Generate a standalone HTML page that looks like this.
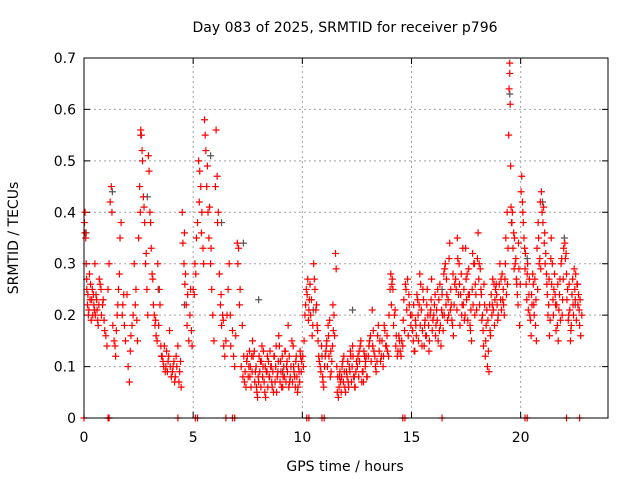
<!DOCTYPE html>
<html><head><meta charset="utf-8"><style>
html,body{margin:0;padding:0;background:#fff}
svg{display:block;font-family:"DejaVu Sans","Liberation Sans",sans-serif}
</style></head><body>
<svg id="chart" width="640" height="480" viewBox="0 0 640 480">
<text x="345" y="32" font-size="14" text-anchor="middle">Day 083 of 2025, SRMTID for receiver p796</text>
<text x="345" y="471" font-size="14" text-anchor="middle">GPS time / hours</text>
<text transform="translate(18,238) rotate(-90)" font-size="14" text-anchor="middle">SRMTID / TECUs</text>
<g id="grid"></g>
<g id="ticks"></g>
<g id="black"></g>
<g id="red"></g>
<rect x="84" y="58" width="524" height="360" fill="none" stroke="#000" stroke-width="1"/>
</svg>
<script>
const xTicks=[0,5,10,15,20];
const yTicks=[0,0.1,0.2,0.3,0.4,0.5,0.6,0.7];
const yTickLabels=["0","0.1","0.2","0.3","0.4","0.5","0.6","0.7"];
const redT=[0.02,0.05,0.08,0.1,0.13,0.16,0.2,0.25,0.3,0.35,0.4,0.45,0.5,0.55,0.6,0.65,0.7,0.78,0.85,0.92,
1.0,1.05,1.1,1.15,1.2,1.25,1.28,1.32,1.38,1.45,1.52,1.58,1.65,1.7,1.78,1.85,1.9,1.97,
2.02,2.08,2.12,2.2,2.25,2.3,2.38,2.45,2.5,2.55,2.6,2.63,2.68,2.72,2.78,2.82,2.88,2.92,2.95,2.98,
3.02,3.08,3.12,3.18,3.25,3.3,3.38,3.45,3.52,3.58,3.65,3.72,3.78,3.85,3.92,
4.0,4.08,4.15,4.22,4.3,4.38,4.45,4.5,4.53,4.58,4.62,4.68,4.72,4.8,4.88,4.95,
5.0,5.08,5.15,5.2,5.25,5.3,5.35,5.4,5.45,5.52,5.55,5.58,5.62,5.68,5.72,5.8,5.85,5.9,5.95,
6.05,6.1,6.15,6.2,6.25,6.3,6.35,6.4,6.45,6.5,6.6,6.65,6.7,6.8,6.85,6.9,6.95,
7.02,7.08,7.12,7.2,7.28,7.35,7.42,7.48,
7.55,7.6,7.68,7.72,7.8,7.85,7.9,7.95,8.0,8.08,8.15,8.2,8.28,8.35,8.4,8.48,
8.55,8.6,8.68,8.72,8.8,8.88,8.92,9.0,9.05,9.12,9.2,9.28,9.35,9.42,
9.52,9.6,9.65,9.72,9.8,9.85,9.9,9.97,
10.05,10.12,10.18,10.25,10.3,10.35,10.42,10.48,
10.52,10.58,10.65,10.7,10.75,10.82,10.88,10.93,10.98,
11.02,11.08,11.12,11.18,11.22,11.28,11.35,11.4,11.45,11.48,
11.52,11.55,11.6,11.65,11.7,11.75,11.82,11.9,11.95,
12.02,12.1,12.15,12.22,12.3,12.35,12.42,12.48,
12.52,12.6,12.68,12.75,12.8,12.85,12.9,12.97,
13.05,13.12,13.2,13.28,13.35,13.42,13.48,
13.55,13.62,13.7,13.78,13.85,13.9,13.97,
14.05,14.1,14.15,14.22,14.3,14.38,14.45,
14.52,14.6,14.68,14.75,14.82,14.9,14.97,
15.02,15.08,15.15,15.2,15.28,15.35,15.42,15.48,
15.52,15.6,15.68,15.75,15.82,15.88,15.92,15.98,
16.05,16.12,16.2,16.28,16.35,16.42,16.48,
16.55,16.62,16.7,16.75,16.82,16.88,16.92,16.98,
17.05,17.1,17.18,17.25,17.3,17.38,17.42,17.48,
17.55,17.6,17.68,17.75,17.8,17.85,17.92,17.98,
18.05,18.1,18.18,18.25,18.3,18.38,18.42,18.48,
18.55,18.62,18.7,18.78,18.85,18.9,18.97,
19.05,19.1,19.18,19.25,19.32,19.38,19.45,19.47,19.5,
19.5,19.52,19.54,19.56,19.6,19.68,19.75,19.82,19.88,19.95,
20.02,20.05,20.1,20.15,20.22,20.3,20.38,20.42,20.48,
20.55,20.6,20.68,20.72,20.78,20.85,20.9,20.95,20.98,
21.02,21.08,21.12,21.2,21.25,21.32,21.4,21.45,
21.52,21.6,21.68,21.72,21.8,21.85,21.9,21.97,
22.02,22.08,22.15,22.2,22.28,22.32,22.4,22.45,
22.52,22.58,22.62,22.7,22.75,22.8];
const redV=[0.38,0.40,0.35,0.30,0.25,0.22,0.20,0.28,0.26,0.23,0.20,0.22,0.30,0.24,0.21,0.18,0.27,0.25,0.22,0.19,
0.16,0.14,0.25,0.30,0.42,0.45,0.40,0.18,0.15,0.12,0.20,0.25,0.35,0.38,0.22,0.18,0.15,0.24,
0.10,0.07,0.13,0.18,0.20,0.30,0.25,0.15,0.35,0.45,0.56,0.55,0.50,0.43,0.38,0.30,0.25,0.20,0.51,0.48,
0.40,0.33,0.28,0.22,0.18,0.16,0.30,0.25,0.14,0.12,0.10,0.09,0.13,0.11,0.17,
0.08,0.10,0.07,0.12,0.14,0.09,0.06,0.40,0.34,0.30,0.26,0.22,0.18,0.15,0.25,0.14,
0.25,0.30,0.35,0.38,0.50,0.48,0.45,0.40,0.33,0.58,0.55,0.52,0.45,0.40,0.35,0.30,0.25,0.20,0.15,
0.56,0.47,0.40,0.28,0.22,0.18,0.20,0.14,0.12,0.15,0.25,0.30,0.20,0.17,0.12,0.10,0.16,
0.34,0.33,0.22,0.10,0.08,0.07,0.06,0.12,
0.10,0.08,0.12,0.15,0.13,0.09,0.06,0.04,0.07,0.11,0.14,0.10,0.05,0.09,0.12,0.08,
0.10,0.07,0.05,0.12,0.14,0.09,0.16,0.11,0.06,0.08,0.13,0.10,0.18,0.07,
0.15,0.10,0.08,0.12,0.06,0.09,0.13,0.11,
0.10,0.20,0.25,0.27,0.21,0.26,0.23,0.18,
0.30,0.25,0.22,0.17,0.12,0.10,0.14,0.08,0.06,
0.10,0.13,0.15,0.18,0.12,0.08,0.11,0.22,0.20,0.16,
0.32,0.29,0.05,0.04,0.08,0.07,0.10,0.12,0.06,
0.09,0.07,0.10,0.12,0.14,0.08,0.06,0.11,
0.10,0.13,0.15,0.09,0.07,0.12,0.11,0.08,
0.14,0.16,0.21,0.13,0.10,0.11,0.18,
0.15,0.12,0.10,0.17,0.14,0.13,0.20,
0.28,0.26,0.25,0.20,0.16,0.13,0.15,
0.12,0.14,0.17,0.25,0.27,0.22,0.18,
0.20,0.15,0.13,0.18,0.23,0.22,0.26,0.14,
0.25,0.18,0.16,0.20,0.15,0.21,0.27,0.19,
0.22,0.18,0.25,0.17,0.14,0.20,0.28,
0.30,0.24,0.20,0.34,0.22,0.18,0.16,0.26,
0.25,0.35,0.30,0.24,0.20,0.22,0.19,0.33,
0.28,0.24,0.18,0.15,0.32,0.30,0.26,0.21,
0.36,0.30,0.25,0.20,0.14,0.12,0.18,0.10,
0.09,0.16,0.22,0.26,0.25,0.24,0.20,
0.30,0.27,0.23,0.20,0.35,0.40,0.55,0.64,0.67,
0.69,0.61,0.49,0.41,0.38,0.36,0.30,0.26,0.22,0.18,
0.44,0.47,0.40,0.35,0.32,0.28,0.24,0.20,0.16,
0.28,0.22,0.18,0.15,0.25,0.30,0.42,0.44,0.40,
0.38,0.34,0.30,0.26,0.20,0.16,0.35,0.30,
0.25,0.22,0.18,0.15,0.27,0.30,0.20,0.33,
0.34,0.32,0.25,0.20,0.15,0.18,0.22,0.29,
0.28,0.26,0.22,0.18,0.16,0.20];
const extraT=[0.04,0.12,0.18,0.22,0.28,0.33,0.38,0.43,0.48,0.52,0.58,0.63,0.68,0.74,0.8,0.88,0.95,
1.42,1.48,1.55,1.62,1.75,1.82,2.15,2.35,2.42,2.58,2.66,2.75,2.85,3.05,3.15,3.22,3.28,3.35,3.42,3.48,3.55,3.62,3.68,3.75,3.82,3.88,3.95,4.05,4.12,4.18,4.25,4.35,4.42,
4.6,4.65,4.75,4.85,4.92,5.05,5.12,5.28,5.38,5.48,5.65,5.75,5.82,6.02,6.12,6.28,6.38,6.55,6.72,
7.05,7.15,7.25,7.32,7.38,7.45,7.52,7.58,7.62,7.65,7.7,7.75,7.82,7.88,7.92,7.98,8.02,8.05,8.1,8.12,8.18,8.22,8.25,8.3,8.32,8.38,8.42,8.45,8.5,8.52,8.58,8.62,8.65,8.7,8.75,8.78,8.82,8.85,8.9,8.95,8.98,9.02,9.08,9.1,9.15,9.18,9.22,9.25,9.3,9.32,9.38,9.4,9.45,9.48,9.55,9.58,9.62,9.68,9.7,9.75,9.78,9.82,9.88,9.92,9.95,
10.02,10.08,10.15,10.22,10.28,10.32,10.38,10.45,10.55,10.62,10.68,10.72,10.78,10.85,10.9,10.95,
11.05,11.1,11.15,11.2,11.25,11.3,11.32,11.38,11.42,11.58,11.62,11.68,11.72,11.78,11.8,11.85,11.88,11.92,11.98,12.05,12.08,12.12,12.18,12.2,12.25,12.28,12.32,12.38,12.4,12.45,12.55,12.58,12.62,12.65,12.72,12.78,12.82,12.88,12.92,12.95,13.02,13.08,13.15,13.22,13.25,13.32,13.38,13.45,13.52,13.58,13.65,13.72,13.75,13.82,13.88,13.95,
14.02,14.08,14.12,14.18,14.25,14.28,14.35,14.42,14.48,14.55,14.62,14.65,14.72,14.78,14.85,14.88,14.95,
15.05,15.1,15.12,15.18,15.22,15.25,15.3,15.32,15.38,15.4,15.45,15.5,15.55,15.58,15.62,15.65,15.7,15.72,15.78,15.8,15.85,15.9,15.95,
16.02,16.08,16.1,16.15,16.18,16.22,16.25,16.3,16.32,16.38,16.4,16.45,16.5,16.52,16.58,16.6,16.65,16.68,16.72,16.78,16.8,16.85,16.9,16.95,
17.02,17.08,17.12,17.15,17.2,17.22,17.28,17.32,17.35,17.4,17.45,17.5,17.52,17.58,17.62,17.65,17.7,17.72,17.78,17.82,17.88,17.9,17.95,
18.02,18.08,18.12,18.15,18.2,18.22,18.28,18.32,18.35,18.4,18.45,18.5,18.52,18.58,18.6,18.65,18.68,18.72,18.75,18.8,18.82,18.88,18.92,18.95,
19.02,19.08,19.12,19.15,19.2,19.22,19.28,19.3,19.35,19.4,19.42,19.58,19.62,19.65,19.7,19.72,19.78,19.8,19.85,19.9,19.92,19.98,
20.08,20.12,20.18,20.2,20.25,20.28,20.32,20.35,20.4,20.45,20.5,20.52,20.58,20.62,20.65,20.7,20.75,20.8,20.82,20.88,20.92,
21.05,21.1,21.15,21.18,21.22,21.28,21.3,21.35,21.38,21.42,21.48,21.5,21.55,21.58,21.62,21.65,21.7,21.75,21.78,21.82,21.88,21.92,21.95,
22.05,22.1,22.12,22.18,22.22,22.25,22.3,22.35,22.38,22.42,22.48,22.5,22.55,22.6,22.65,22.68,22.72];
const extraV=[0.36,0.27,0.24,0.21,0.23,0.19,0.25,0.24,0.21,0.20,0.23,0.19,0.22,0.26,0.20,0.23,0.17,
0.14,0.17,0.22,0.28,0.20,0.24,0.16,0.22,0.19,0.40,0.52,0.41,0.32,0.38,0.27,0.20,0.19,0.15,0.18,0.22,0.12,0.11,0.14,0.10,0.09,0.12,0.10,0.09,0.11,0.08,0.10,0.07,0.11,
0.36,0.28,0.24,0.20,0.17,0.24,0.28,0.42,0.36,0.30,0.49,0.41,0.33,0.45,0.38,0.24,0.19,0.20,0.14,
0.30,0.25,0.18,0.12,0.09,0.11,0.08,0.13,0.10,0.06,0.09,0.12,0.07,0.10,0.05,0.08,0.12,0.09,0.06,0.11,0.08,0.13,0.07,0.10,0.04,0.09,0.06,0.11,0.08,0.13,0.10,0.06,0.09,0.12,0.07,0.10,0.05,0.08,0.11,0.14,0.07,0.09,0.12,0.06,0.10,0.08,0.13,0.07,0.11,0.09,0.06,0.12,0.08,0.10,0.07,0.14,0.09,0.06,0.11,0.08,0.05,0.10,0.07,0.12,0.09,
0.12,0.15,0.22,0.24,0.19,0.23,0.20,0.16,0.27,0.21,0.18,0.15,0.11,0.09,0.12,0.07,
0.12,0.14,0.10,0.16,0.19,0.13,0.09,0.14,0.17,0.10,0.08,0.06,0.09,0.05,0.08,0.11,0.07,0.09,0.05,0.08,0.11,0.06,0.09,0.13,0.07,0.10,0.12,0.08,0.06,0.09,0.12,0.08,0.11,0.14,0.07,0.09,0.13,0.10,0.12,0.08,0.12,0.15,0.11,0.14,0.17,0.12,0.09,0.16,0.13,0.11,0.15,0.12,0.18,0.14,0.16,0.12,
0.25,0.22,0.27,0.18,0.21,0.14,0.12,0.16,0.13,0.15,0.19,0.23,0.26,0.21,0.16,0.24,0.20,
0.17,0.22,0.13,0.19,0.16,0.24,0.20,0.15,0.28,0.18,0.21,0.17,0.23,0.14,0.19,0.16,0.22,0.25,0.18,0.13,0.20,0.23,0.17,
0.20,0.24,0.16,0.21,0.19,0.15,0.23,0.26,0.18,0.21,0.24,0.17,0.20,0.29,0.22,0.27,0.19,0.23,0.31,0.21,0.25,0.19,0.28,0.22,
0.27,0.21,0.31,0.24,0.26,0.18,0.28,0.22,0.33,0.25,0.20,0.27,0.23,0.19,0.29,0.24,0.17,0.21,0.25,0.22,0.30,0.20,0.24,
0.31,0.27,0.22,0.29,0.24,0.19,0.17,0.26,0.22,0.15,0.21,0.19,0.13,0.22,0.17,0.24,0.20,0.27,0.21,0.18,0.23,0.26,0.22,0.19,
0.26,0.23,0.21,0.28,0.25,0.22,0.27,0.30,0.24,0.26,0.33,0.38,0.40,0.33,0.29,0.35,0.31,0.27,0.24,0.34,0.29,0.26,
0.42,0.38,0.33,0.29,0.26,0.23,0.30,0.21,0.27,0.19,0.24,0.22,0.26,0.20,0.27,0.23,0.33,0.38,0.35,0.31,0.29,
0.41,0.36,0.32,0.28,0.24,0.22,0.27,0.19,0.31,0.26,0.23,0.20,0.28,0.24,0.17,0.22,0.26,0.21,0.24,0.19,0.31,0.23,0.27,
0.31,0.28,0.23,0.19,0.26,0.21,0.17,0.24,0.27,0.20,0.25,0.23,0.19,0.26,0.24,0.21,0.23];
const zeroT=[0,1.1,1.15,4.3,5.1,5.2,6.5,6.8,6.9,10.2,10.3,10.9,11.0,14.6,14.7,16.4,20.2,20.3,22.1,22.7];
const blackT=[0.1,1.3,2.6,2.9,3.4,4.6,5.8,6.3,7.3,8.0,9.1,10.5,12.3,16.4,19.5,20.3,21.0,22.0,22.5];
const blackV=[0.36,0.44,0.55,0.43,0.25,0.22,0.51,0.38,0.34,0.23,0.09,0.21,0.21,0.25,0.63,0.31,0.42,0.35,0.22];

const X0=84,X1=608,Y0=418,Y1=58,XMAX=24,YMAX=0.7;
const xs=t=>X0+(X1-X0)*t/XMAX;
const ys=v=>Y0-(Y0-Y1)*v/YMAX;
const NS="http://www.w3.org/2000/svg";
function mk(tag,attrs,parent){const e=document.createElementNS(NS,tag);for(const k in attrs)e.setAttribute(k,attrs[k]);parent.appendChild(e);return e;}
const grid=document.getElementById('grid'),ticks=document.getElementById('ticks');
xTicks.forEach(t=>{
  const x=xs(t);
  if(t>0){const g=mk('line',{x1:x,x2:x,y1:Y0,y2:Y1,stroke:'#a0a0a0','stroke-dasharray':'2,3'},grid);
  
  }
  const tk=mk('path',{d:`M${x},${Y0}v-6M${x},${Y1}v6`,stroke:'#000'},ticks);
  
  
  const lb=mk('text',{x:x,y:Y0+24,'font-size':14,'text-anchor':'middle'},ticks);lb.textContent=String(t);
  
  
});
yTicks.forEach((v,i)=>{
  const y=ys(v);
  if(v>0&&v<0.7){const g=mk('line',{x1:X0,x2:X1,y1:y,y2:y,stroke:'#a0a0a0','stroke-dasharray':'2,3'},grid);
  
  }
  const tk=mk('path',{d:`M${X0},${y}h6M${X1},${y}h-6`,stroke:'#000'},ticks);
  
  
  const lb=mk('text',{x:X0-8,y:y+5,'font-size':14,'text-anchor':'end'},ticks);lb.textContent=yTickLabels[i];
  
  
});
function plus(t,v,col,g){
  const x=xs(t),y=ys(v);
  const p=mk('path',{d:`M${x-3.5},${y}h7M${x},${y-3.5}v7`,stroke:col,'stroke-width':1.2},g);
  
  
}
const bg=document.getElementById('black'),rg=document.getElementById('red');
blackT.forEach((t,i)=>plus(t,blackV[i],'#555',bg));
redT.forEach((t,i)=>plus(t,redV[i],'#f00',rg));
extraT.forEach((t,i)=>plus(t,extraV[i],'#f00',rg));
zeroT.forEach(t=>plus(t,0,'#f00',rg));
</script>
</body></html>
